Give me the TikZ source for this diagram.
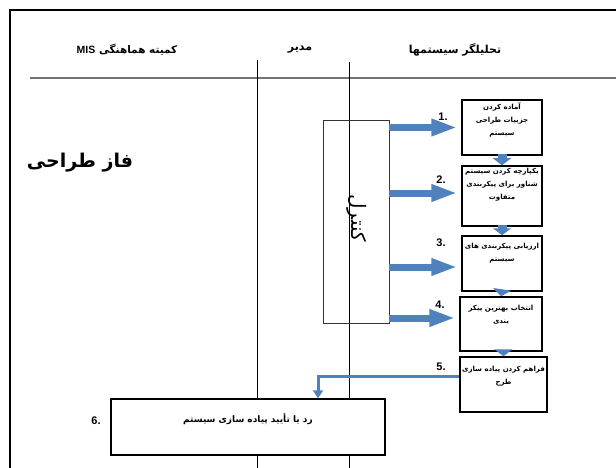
\documentclass[tikz,border=0pt]{standalone}
\usepackage{fontspec}
\setmainfont{Liberation Sans}
\newfontfamily\arabicfont[Script=Arabic]{DejaVu Sans}
\TeXXeTstate=1
\usetikzlibrary{arrows.meta}
\definecolor{flowblue}{RGB}{79,129,189}
\tikzset{
  stepbox/.style={draw=black, line width=1.5pt, fill=white, inner sep=0pt},
  steptext/.style={anchor=north, align=center, inner sep=3pt,
    font=\fontsize{7}{13}\selectfont\bfseries\arabicfont},
  numlabel/.style={font=\fontsize{11}{12}\selectfont\bfseries},
  header/.style={font=\fontsize{11}{13}\selectfont\bfseries\arabicfont},
  blockarrow/.style={flowblue, line width=7pt, -{Triangle[width=16pt,length=26pt]}},
  downarrow/.style={flowblue, line width=9pt, -{Triangle[width=18pt,length=7pt]}}
}
\begin{document}
\begin{tikzpicture}[x=1pt,y=-1pt]
\useasboundingbox (0,0) rectangle (616,468);
% frame and lanes
\draw[line width=2.5pt] (10,468) -- (10,10) -- (616,10);
\draw[black!55, line width=1.5pt] (30,78) -- (616,78);
\draw[thin] (257,60) -- (257,468);
\draw[thin] (349,62) -- (349,468);
% headers
\node[header, font=\fontsize{10.5}{13}\selectfont\bfseries\arabicfont] (hdrMIS) at (127,50)
  {\beginR کمیته هماهنگی \beginL{\normalfont\bfseries MIS}\endL\endR};
\node[header] (hdrMgr) at (300,50) {\beginR مدیر\endR};
\node[header] (hdrSA) at (455,50) {\beginR تحلیلگر سیستمها\endR};
\node[font=\fontsize{19}{22}\selectfont\bfseries\arabicfont] (phase) at (80,163) {\beginR فاز طراحی\endR};
% control
\node[draw=black!80, thin, minimum width=66pt, minimum height=203pt, inner sep=0pt] (ctl) at (356,221.5) {};
\node[rotate=-90, font=\fontsize{20}{22}\selectfont\arabicfont] (ctltext) at (357,218) {\beginR کنترل\endR};
% steps
\node[stepbox, minimum width=80pt, minimum height=55pt,
  label={[steptext]north:{\beginR آماده کردن\endR\\\beginR جزییات طراحی\endR\\\beginR سیستم\endR}}] (s1) at (502,127.5) {};
\node[stepbox, minimum width=80pt, minimum height=60pt,
  label={[steptext]north:{\beginR یکپارچه کردن سیستم\endR\\\beginR شناور برای پیکربندی\endR\\\beginR متفاوت\endR}}] (s2) at (502,196) {};
\node[stepbox, minimum width=80pt, minimum height=55pt,
  label={[steptext, inner sep=8pt]north:{\beginR ارزیابی پیکربندی های\endR\\\beginR سیستم\endR}}] (s3) at (502,263.5) {};
\node[stepbox, minimum width=82pt, minimum height=54pt,
  label={[steptext, inner sep=9pt]north:{\beginR انتخاب بهترین پیکر\endR\\\beginR بندی\endR}}] (s4) at (501,324) {};
\node[stepbox, minimum width=87pt, minimum height=55pt,
  label={[steptext, inner sep=10pt]north:{\beginR فراهم کردن پیاده سازی\endR\\\beginR طرح\endR}}] (s5) at (503.5,384.5) {};
\node[stepbox, minimum width=274pt, minimum height=56pt,
  label={[steptext, inner sep=15pt, font=\fontsize{9}{12}\selectfont\bfseries\arabicfont]north:{\beginR رد یا تأیید پیاده سازی سیستم\endR}}] (s6) at (248,427) {};
% numbers
\node[numlabel] (n1) at (443,117) {1.};
\node[numlabel] (n2) at (441,180) {2.};
\node[numlabel] (n3) at (441,243) {3.};
\node[numlabel] (n4) at (440,305) {4.};
\node[numlabel] (n5) at (441,367) {5.};
\node[numlabel] (n6) at (96,421) {6.};
% arrows
\draw[blockarrow] (ctl.east |- s1.west) -- ([xshift=-4pt]s1.west);
\draw[blockarrow] ([yshift=3pt]ctl.east |- s2.west) -- ([xshift=-4pt,yshift=3pt]s2.west);
\draw[blockarrow] ([yshift=-3.5pt]ctl.east |- s3.west) -- ([xshift=-4pt,yshift=-3.5pt]s3.west);
\draw[blockarrow] ([yshift=6pt]ctl.east |- s4.west) -- ([xshift=-4pt,yshift=6pt]s4.west);
\draw[downarrow] ([yshift=2pt]s1.south) -- (s2.north);
\draw[downarrow] ([yshift=2pt]s2.south) -- (s3.north);
\draw[downarrow] ([yshift=2pt]s3.south) -- (s4.north);
\draw[downarrow] ([xshift=2.5pt,yshift=2pt]s4.south) -- (s5.north);
\draw[flowblue, line width=3pt, -{Triangle[width=10pt,length=8pt]}] ([yshift=8pt]s5.west) -| ([xshift=70pt]s6.north);
\end{tikzpicture}
\end{document}
